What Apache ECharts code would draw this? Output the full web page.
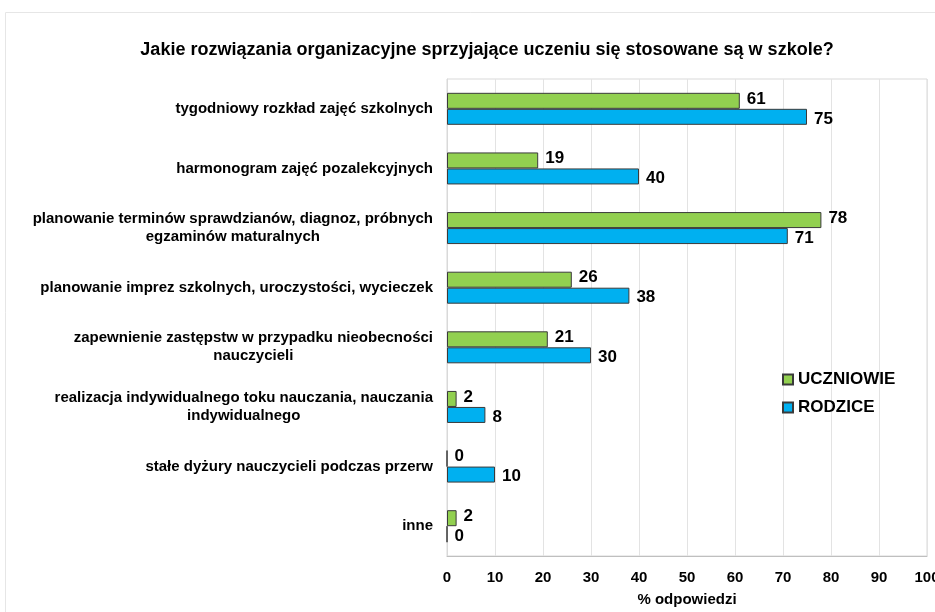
<!DOCTYPE html>
<html style="height: 100%">
<head>
    <meta charset="utf-8">
</head>
<body style="height: 100%; margin: 0">
<div id="container" style="width: 935px; height: 612px"></div>
<script type="text/javascript" src="https://cdn.jsdelivr.net/npm/echarts@6/dist/echarts.min.js"></script>
<script type="text/javascript">
    var categories = [
        'tygodniowy rozkład zajęć szkolnych',
        'harmonogram zajęć pozalekcyjnych',
        'planowanie terminów sprawdzianów, diagnoz, próbnych\negzaminów maturalnych',
        'planowanie imprez szkolnych, uroczystości, wycieczek',
        'zapewnienie zastępstw w przypadku nieobecności\nnauczycieli',
        'realizacja indywidualnego toku nauczania, nauczania\nindywidualnego',
        'stałe dyżury nauczycieli podczas przerw',
        'inne'
    ];
    var uczniowie = [61, 19, 78, 26, 21, 2, 0, 2];
    var rodzice = [75, 40, 71, 38, 30, 8, 10, 0];
    var xTicks = [0, 10, 20, 30, 40, 50, 60, 70, 80, 90, 100];

    var dom = document.getElementById("container");
    var myChart = echarts.init(dom);
    var font = 'Liberation Sans, Arial, sans-serif';

    var option = {
        backgroundColor: '#fff',
        animation: false,
        textStyle: {fontFamily: font},
        // faint outer frame like the pasted chart object
        graphic: [{
            type: 'rect',
            shape: {x: 5.5, y: 12.5, width: 1000, height: 800},
            style: {fill: 'none', stroke: '#e6e6e6', lineWidth: 1},
            silent: true
        }],
        title: {
            text: 'Jakie rozwiązania organizacyjne sprzyjające uczeniu się stosowane są w szkole?',
            left: 482,
            textAlign: 'center',
            top: 36,
            textStyle: {fontSize: 18, fontWeight: 'bold', color: '#000', fontFamily: font}
        },
        legend: {
            orient: 'vertical',
            left: 777,
            top: 366,
            itemWidth: 10,
            itemHeight: 10,
            itemGap: 11,
            icon: 'rect',
            textStyle: {fontSize: 17, fontWeight: 'bold', color: '#000', fontFamily: font},
            data: ['UCZNIOWIE', 'RODZICE']
        },
        grid: {
            left: 447,
            right: 8,
            top: 79,
            bottom: 56,
            outerBoundsMode: 'none',
            show: true,
            borderColor: '#d9d9d9',
            borderWidth: 1
        },
        xAxis: {
            type: 'value',
            min: 0,
            max: 100,
            interval: 10,
            name: '% odpowiedzi',
            nameLocation: 'middle',
            nameGap: 36,
            nameTextStyle: {fontSize: 15, fontWeight: 'bold', color: '#000', fontFamily: font},
            axisLine: {show: true, lineStyle: {color: '#bfbfbf'}},
            axisTick: {show: false},
            axisLabel: {
                fontSize: 15, fontWeight: 'bold', color: '#000', margin: 14,
                formatter: function (v) { return xTicks.indexOf(v) >= 0 ? String(v) : ''; }
            },
            splitLine: {show: true, lineStyle: {color: '#e3e3e3'}}
        },
        yAxis: {
            type: 'category',
            inverse: true,
            data: categories,
            axisLine: {show: true, lineStyle: {color: '#d9d9d9'}},
            axisTick: {show: false},
            axisLabel: {
                margin: 14,
                formatter: function (v) {
                    return v.split('\n').map(function (l) { return '{c|' + l + '}'; }).join('\n');
                },
                rich: {
                    c: {fontSize: 15, fontWeight: 'bold', color: '#000', fontFamily: font, align: 'center', lineHeight: 18}
                }
            }
        },
        series: [
            {
                name: 'UCZNIOWIE',
                type: 'bar',
                data: uczniowie,
                barWidth: 16,
                barGap: '0%',
                itemStyle: {color: '#92D050', borderColor: '#3a3a3a', borderWidth: 1},
                label: {show: true, position: 'right', distance: 7, fontSize: 17, fontWeight: 'bold', color: '#000', fontFamily: font, offset: [0, -2]}
            },
            {
                name: 'RODZICE',
                type: 'bar',
                data: rodzice,
                barWidth: 16,
                barGap: '0%',
                itemStyle: {color: '#00B0F0', borderColor: '#3a3a3a', borderWidth: 1},
                label: {show: true, position: 'right', distance: 7, fontSize: 17, fontWeight: 'bold', color: '#000', fontFamily: font, offset: [0, 2]}
            }
        ]
    };

    if (option && typeof option === "object") {
        myChart.setOption(option, true);
    }
</script>
</body>
</html>
